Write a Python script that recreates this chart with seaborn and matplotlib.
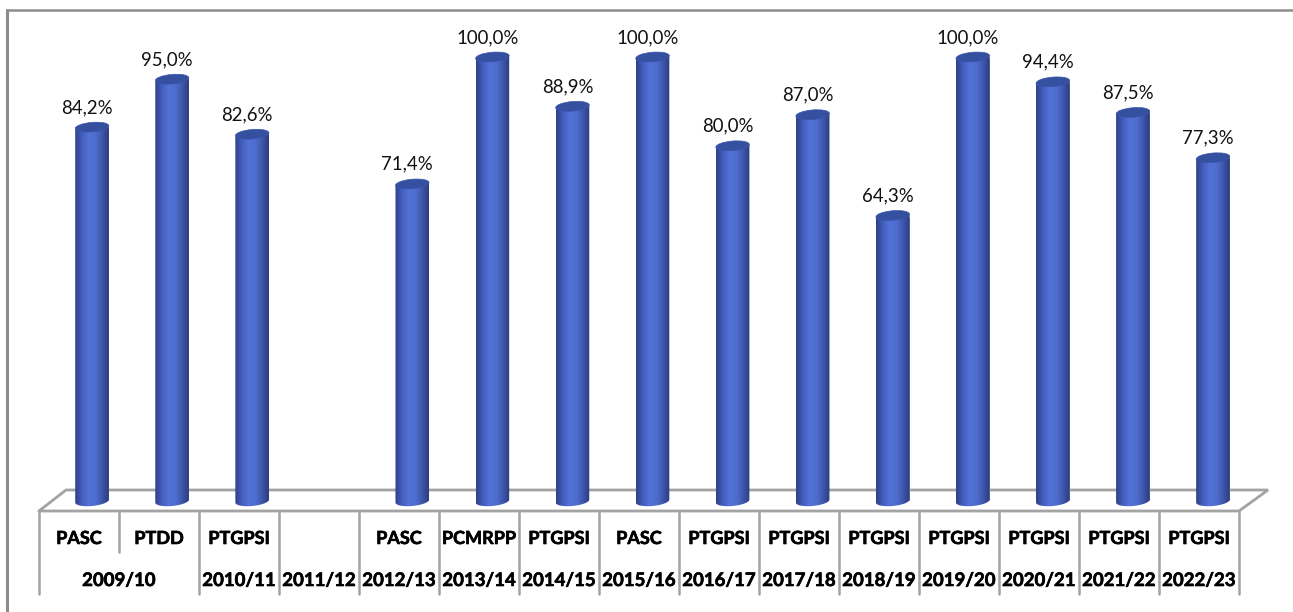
import numpy as np
import pandas as pd
import matplotlib
matplotlib.use('Agg')
import matplotlib.pyplot as plt
import matplotlib.patheffects as pe
from matplotlib.colors import LinearSegmentedColormap
from matplotlib.patches import Ellipse, Polygon
import seaborn as sns

W, H = 1293, 612
sns.set_theme(style='white')
plt.rcParams['font.family'] = ['Lato', 'DejaVu Sans']

YEARS = ['2009/10', '2009/10', '2010/11', '2011/12', '2012/13', '2013/14', '2014/15', '2015/16',
         '2016/17', '2017/18', '2018/19', '2019/20', '2020/21', '2021/22', '2022/23']
COURSES = ['PASC', 'PTDD', 'PTGPSI', '', 'PASC', 'PCMRPP', 'PTGPSI', 'PASC',
           'PTGPSI', 'PTGPSI', 'PTGPSI', 'PTGPSI', 'PTGPSI', 'PTGPSI', 'PTGPSI']
VALUES = [84.2, 95.0, 82.6, np.nan, 71.4, 100.0, 88.9, 100.0,
          80.0, 87.0, 64.3, 100.0, 94.4, 87.5, 77.3]

GREY = '#a3a3a3'
cyl = LinearSegmentedColormap.from_list('cyl', ['#2f4088', '#445ebb', '#5272d6', '#4f6dd0', '#3f58ac', '#2c3c7e'])
BOLDER = [pe.withStroke(linewidth=0.45, foreground='black')]

df = pd.DataFrame({'key': [f'{i}' for i in range(len(VALUES))], 'value': VALUES})

fig = plt.figure(figsize=(W / 100, H / 100), dpi=100, facecolor='white')

# bars live on a real 0-100 scale, the 3D look goes on the overlay below
X0, X1, Y0, Y100 = 52, 1253, 501, 57
ax = fig.add_axes([X0 / W, 1 - Y0 / H, (X1 - X0) / W, (Y0 - Y100) / H])
sns.barplot(data=df, x='key', y='value', color='#4560c0', width=0.42, ax=ax, errorbar=None)
ax.set_ylim(0, 100)
ax.set_xlim(-0.5, len(VALUES) - 0.5)
ax.axis('off')

for c in ax.containers:
    labs = [f'{b.get_height():.1f}%'.replace('.', ',') for b in c]
    anns = ax.bar_label(c, labels=labs, padding=8, fontsize=13.4, color='#111111')
    for a in anns:
        # labels sit a little left of the bar centre in the original
        a.xyann = (a.xyann[0] - 3.6, a.xyann[1])

# overlay in pixel coordinates
ov = fig.add_axes([0, 0, 1, 1], facecolor='none')
ov.axis('off')

def to_px(x, y):
    px, py = ax.transData.transform((x, y))
    return px, H - py

grad = np.linspace(0, 1, 64).reshape(1, -1)
for b in ax.patches:
    h = b.get_height()
    if not np.isfinite(h) or h == 0:
        continue
    xl, ytop = to_px(b.get_x(), h)
    xr, ybot = to_px(b.get_x() + b.get_width(), 0)
    xc, rx = (xl + xr) / 2, (xr - xl) / 2
    t = np.linspace(np.pi, 0, 30)
    arc = np.c_[xc + rx * np.cos(t), ybot + 5 * np.sin(t) - 1.5 * np.cos(t)]
    poly = [(xl, ytop + 1.5)] + [tuple(p) for p in arc] + [(xr, ytop - 1.5)]
    im = ov.imshow(grad, extent=(xl, xr, ybot + 8, ytop - 8), cmap=cyl, aspect='auto', zorder=3)
    im.set_clip_path(Polygon(poly, closed=True, transform=ov.transData))
    ov.add_patch(Ellipse((xc, ytop), xr - xl, 9.5, angle=-5, fc='#34509f', ec='#3a55ad', lw=0.5, zorder=4))

# floor
ov.plot([39, 66, 1268, 1239, 39], [511, 490, 490, 511, 511], color=GREY, lw=2, zorder=1, solid_joinstyle='miter')

# table under the chart
cell = 80.0
left = 39
for i in range(len(VALUES) + 1):
    if i == 1:
        ov.plot([left + i * cell] * 2, [511, 552], color=GREY, lw=1.8, zorder=1)
    else:
        ov.plot([left + i * cell] * 2, [511, 594], color=GREY, lw=1.8, zorder=1)

for i, course in enumerate(COURSES):
    ov.text(left + (i + 0.5) * cell, 538.5, course, ha='center', va='center', fontsize=13,
            fontweight='bold', color='black', path_effects=BOLDER)
seen = []
for i, year in enumerate(YEARS):
    if year in seen:
        continue
    seen.append(year)
    n = YEARS.count(year)
    ov.text(left + (i + n / 2) * cell, 580.5, year, ha='center', va='center', fontsize=13.4,
            fontweight='bold', color='black', path_effects=BOLDER)

# chart frame, only top and left show
ov.plot([7, 7], [612, 9.5], color='#8c8c8c', lw=2.2, zorder=1, solid_joinstyle='miter')
ov.plot([7, 1293], [9.5, 9.5], color='#8c8c8c', lw=1.8, zorder=1)

ov.set_xlim(0, W)
ov.set_ylim(H, 0)

fig.savefig('out.png', dpi=100)
